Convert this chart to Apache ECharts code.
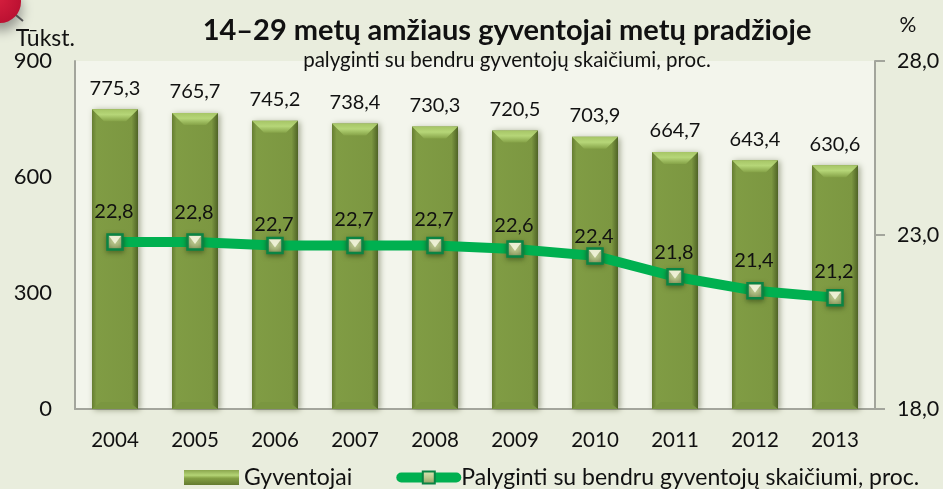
<!DOCTYPE html>
<html>
<head>
<meta charset="utf-8">
<style>
html, body { margin: 0; padding: 0; background: #e9eddd; }
#main { width: 943px; height: 489px; }
</style>
<script src="https://cdn.jsdelivr.net/npm/echarts@6/dist/echarts.min.js"></script>
</head>
<body>
<div id="main"></div>
<script>
const years = ['2004', '2005', '2006', '2007', '2008', '2009', '2010', '2011', '2012', '2013'];
const gyventojai = [775.3, 765.7, 745.2, 738.4, 730.3, 720.5, 703.9, 664.7, 643.4, 630.6];
const palyginti = [22.8, 22.8, 22.7, 22.7, 22.7, 22.6, 22.4, 21.8, 21.4, 21.2];
const leftTicks = [0, 300, 600, 900];
const rightTicks = [18, 23, 28];

const font = 'Lato';
const barName = 'Gyventojai';
const lineName = 'Palyginti su bendru gyventojų skaičiumi, proc.';
// the labels on the line sit a bit unevenly in the original
const lineLabelLift = [11, 10, 1, 6, 6, 4, 0, 4, 10, 6];

const myChart = echarts.init(document.getElementById('main'));

const barFill = {
	type: 'linear', x: 0, y: 0, x2: 1, y2: 0,
	colorStops: [
		{ offset: 0, color: '#667d31' },
		{ offset: 0.1, color: '#809c44' },
		{ offset: 0.86, color: '#7c9741' },
		{ offset: 1, color: '#4f6326' }
	]
};

const option = {
	animation: false,
	backgroundColor: '#e9eddd',
	textStyle: { fontFamily: font, color: '#111' },
	title: {
		text: '14–29 metų amžiaus gyventojai metų pradžioje',
		subtext: 'palyginti su bendru gyventojų skaičiumi, proc.',
		left: 502,
		top: 11,
		textAlign: 'center',
		itemGap: 5,
		textStyle: { fontFamily: font, fontSize: 29, fontWeight: 'bold', color: '#111' },
		subtextStyle: { fontFamily: font, fontSize: 20.5, color: '#111' }
	},
	grid: { left: 75, right: 68, top: 61, bottom: 80, backgroundColor: '#f3f5ec', show: true, borderWidth: 0 },
	legend: {
		left: 179,
		top: 461,
		itemGap: 44,
		itemWidth: 55,
		itemHeight: 15,
		data: [
			{
				name: barName,
				icon: 'rect',
				itemStyle: {
					color: {
						type: 'linear', x: 0, y: 0, x2: 0, y2: 1,
						colorStops: [
							{ offset: 0, color: '#8aa64d' },
							{ offset: 0.35, color: '#b4d475' },
							{ offset: 0.55, color: '#84a044' },
							{ offset: 1, color: '#647b30' }
						]
					},
					shadowBlur: 0,
					shadowOffsetX: 0,
					shadowOffsetY: 0
				}
			},
			{
				name: lineName,
				lineStyle: { width: 10, cap: 'round', color: '#00b050' }
			}
		],
		textStyle: { fontFamily: font, fontSize: 23, color: '#111' },
		selectedMode: false
	},
	xAxis: {
		type: 'category',
		data: years,
		axisTick: { show: false },
		axisLine: { lineStyle: { color: '#a3a59c', width: 2 } },
		axisLabel: { fontSize: 20.5, color: '#111', margin: 21 }
	},
	yAxis: [
		{
			type: 'value',
			min: 0,
			max: 900,
			interval: 300,
			name: 'Tūkst.',
			nameGap: 3,
			nameLocation: 'end',
			nameTextStyle: { fontSize: 23, color: '#111', align: 'right', padding: [0, 0, 0, 0] },
			axisLine: { show: true, lineStyle: { color: '#a3a59c', width: 2 } },
			axisTick: { show: false },
			splitLine: { show: false },
			axisLabel: {
				fontSize: 22,
				color: '#111',
				margin: 23,
				formatter: (v) => (leftTicks.includes(v) ? String(v) : '')
			}
		},
		{
			type: 'value',
			min: 18,
			max: 28,
			interval: 5,
			name: '%',
			nameGap: 25,
			nameTextStyle: { fontSize: 21, color: '#111', padding: [0, 0, 0, 66] },
			axisLine: { show: true, lineStyle: { color: '#a3a59c', width: 2 } },
			axisTick: { show: true, length: 10, lineStyle: { color: '#a3a59c', width: 2 } },
			splitLine: { show: false },
			axisLabel: {
				fontSize: 21.5,
				color: '#111',
				margin: 22,
				formatter: (v) => (rightTicks.includes(v) ? v.toFixed(1).replace('.', ',') : '')
			}
		}
	],
	series: [
		{
			name: barName,
			type: 'bar',
			data: gyventojai,
			barWidth: 46,
			itemStyle: {
				color: barFill,
				shadowColor: 'rgba(60,70,30,0.45)',
				shadowBlur: 6,
				shadowOffsetX: 2,
				shadowOffsetY: 1
			},
			label: {
				show: true,
				position: 'top',
				distance: 11,
				fontSize: 20,
				color: '#111',
				formatter: (p) => p.value.toFixed(1).replace('.', ',')
			},
			z: 2
		},
		{
			// bevel on the top and bottom of each bar
			name: 'bevel',
			type: 'custom',
			data: gyventojai,
			silent: true,
			z: 3,
			encode: { x: 0, y: 1 },
			renderItem: (params, api) => {
				const i = params.dataIndex;
				const top = api.coord([i, gyventojai[i]]);
				const bottom = api.coord([i, 0]);
				const w = 46;
				const x0 = top[0] - w / 2;
				const x1 = top[0] + w / 2;
				return {
					type: 'group',
					children: [
						{
							type: 'polygon',
							shape: { points: [[x0, top[1]], [x1, top[1]], [x1 - 12, top[1] + 12], [x0 + 12, top[1] + 12]] },
							style: {
								fill: {
									type: 'linear', x: 0, y: 0, x2: 0, y2: 1,
									colorStops: [
										{ offset: 0, color: '#a6c566' },
										{ offset: 0.45, color: '#b6d678' },
										{ offset: 1, color: '#86a348' }
									]
								}
							}
						},
						{
							type: 'polygon',
							shape: { points: [[x0, bottom[1]], [x1, bottom[1]], [x1 - 9, bottom[1] - 7], [x0 + 9, bottom[1] - 7]] },
							style: { fill: '#7a9640' }
						}
					]
				};
			}
		},
		{
			name: lineName,
			type: 'line',
			yAxisIndex: 1,
			data: palyginti.map((v, i) => ({
				value: v,
				label: { offset: [-1, -lineLabelLift[i] + 9] }
			})),
			smooth: false,
			lineStyle: { color: '#00b050', width: 10 },
			symbol: 'rect',
			symbolSize: 15,
			itemStyle: {
				color: {
					type: 'linear', x: 0, y: 0, x2: 0, y2: 1,
					colorStops: [
						{ offset: 0, color: '#dde8b8' },
						{ offset: 0.5, color: '#bcc98f' },
						{ offset: 1, color: '#8e9c60' }
					]
				},
				borderColor: '#0a8444',
				borderWidth: 2.5,
				shadowColor: 'rgba(30,50,10,0.5)',
				shadowBlur: 5,
				shadowOffsetY: 2
			},
			label: {
				show: true,
				position: 'top',
				distance: 10,
				fontSize: 20,
				color: '#111',
				formatter: (p) => p.value.toFixed(1).replace('.', ',')
			},
			z: 5
		},
		{
			// pale wedge inside each line marker
			name: 'wedge',
			type: 'scatter',
			yAxisIndex: 1,
			data: palyginti.map((v, i) => [i, v]),
			symbol: 'triangle',
			symbolRotate: 180,
			symbolSize: [12, 8],
			symbolOffset: [0, -2],
			itemStyle: { color: '#fbfbe6' },
			silent: true,
			z: 6
		}
	],
	graphic: [
		{
			type: 'line',
			shape: { x1: 11, y1: 11, x2: 23, y2: 21 },
			style: { stroke: '#555', lineWidth: 2 },
			z: 20
		},
		{
			type: 'circle',
			shape: { cx: 0, cy: 2, r: 21 },
			style: {
				fill: {
					type: 'radial', x: 0.4, y: 0.4, r: 0.7,
					colorStops: [
						{ offset: 0, color: '#d8203f' },
						{ offset: 1, color: '#b80f30' }
					]
				},
				shadowColor: 'rgba(70,70,70,0.5)',
				shadowBlur: 12,
				shadowOffsetX: 1,
				shadowOffsetY: 8
			},
			z: 21
		}
	]
};

myChart.setOption(option);
</script>
</body>
</html>
